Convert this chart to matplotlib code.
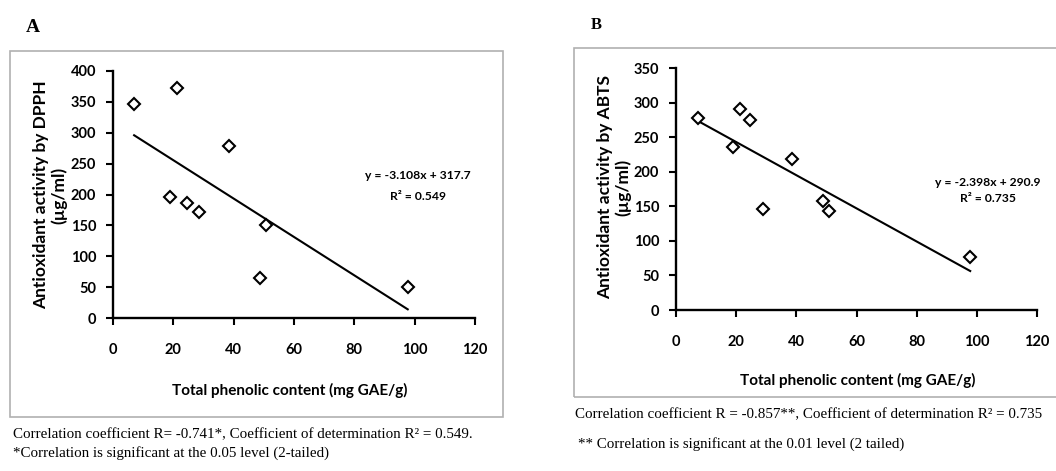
import numpy as np
import matplotlib.pyplot as plt
from matplotlib.patches import Rectangle

# data
tpc_a = [7.0, 21.1, 18.8, 24.4, 28.5, 38.4, 50.6, 48.6, 97.7]
dpph = [346, 372, 196, 187, 172, 279, 150, 64, 50]
slope_a, icpt_a = -3.108, 317.7

tpc_b = [7.3, 21.4, 24.7, 19.1, 38.6, 28.9, 48.8, 50.9, 97.8]
abts = [278, 291, 275, 236, 218, 146, 158, 143, 76]
slope_b, icpt_b = -2.398, 290.9

x_ticks = [0, 20, 40, 60, 80, 100, 120]

W, H = 1056, 471
fig = plt.figure(figsize=(W / 100, H / 100), dpi=100)

SANS = 'Lato'
SERIF = 'Liberation Serif'


def px(x, y):
    # pixel position (from top-left) -> figure fraction
    return x / W, 1 - y / H


def axes_px(left, top, right, bottom):
    x0, y1 = px(left, top)
    x1, y0 = px(right, bottom)
    return fig.add_axes([x0, y0, x1 - x0, y1 - y0])


def draw_panel(ax, xs, ys, slope, icpt, ymax, ystep):
    ax.plot(xs, ys, linestyle='none', marker='D', markersize=6,
            markerfacecolor='white', markeredgecolor='black', markeredgewidth=1.5,
            zorder=3, clip_on=False)
    lx = np.array([min(xs), max(xs)])
    ax.plot(lx, slope * lx + icpt, color='black', lw=1.5, zorder=2)
    ax.set_xlim(0, 120)
    ax.set_ylim(0, ymax)
    ax.set_xticks(x_ticks)
    ax.set_yticks(np.arange(0, ymax + 1, ystep))
    for s in ['top', 'right']:
        ax.spines[s].set_visible(False)
    for s in ['left', 'bottom']:
        ax.spines[s].set_linewidth(1.7)
    ax.tick_params(axis='x', direction='out', length=5, width=1.5, pad=13)
    ax.tick_params(axis='y', direction='out', length=5, width=1.5, pad=7)
    for lab in ax.get_xticklabels() + ax.get_yticklabels():
        lab.set_fontfamily(SANS)
        lab.set_fontweight('bold')
        lab.set_fontsize(10.5)


# frames around the panels
fig.patches.append(Rectangle(px(10, 417), 493 / W, 366 / H, transform=fig.transFigure,
                             fill=False, edgecolor='#b0b0b0', lw=1.2))
fig.patches.append(Rectangle(px(574, 397), 490 / W, 349 / H, transform=fig.transFigure,
                             fill=False, edgecolor='#b0b0b0', lw=1.2))

# panel A
ax_a = axes_px(113, 71, 475, 318)
draw_panel(ax_a, tpc_a, dpph, slope_a, icpt_a, 400, 50)
fig.text(*px(33, 27), 'A', family=SERIF, weight='bold', fontsize=14, ha='center', va='center')
fig.text(*px(50, 195), 'Antioxidant activity by DPPH\n(µg/ml)', family=SANS, weight='bold',
         fontsize=12.5, rotation=90, ha='center', va='center', linespacing=1.1)
fig.text(*px(290, 390), 'Total phenolic content (mg GAE/g)', family=SANS, weight='bold',
         fontsize=11, ha='center', va='center')
fig.text(*px(418, 176), 'y = -3.108x + 317.7', family=SANS, weight='bold', fontsize=8.7,
         ha='center', va='center')
fig.text(*px(418, 196), 'R² = 0.549', family=SANS, weight='bold', fontsize=8.7,
         ha='center', va='center')
fig.text(*px(13, 435), 'Correlation coefficient R= -0.741*, Coefficient of determination R² = 0.549.',
         family=SERIF, fontsize=10.8, ha='left', va='center')
fig.text(*px(13, 453), '*Correlation is significant at the 0.05 level (2-tailed)',
         family=SERIF, fontsize=10.8, ha='left', va='center')

# panel B
ax_b = axes_px(676, 68, 1037, 310)
draw_panel(ax_b, tpc_b, abts, slope_b, icpt_b, 350, 50)
fig.text(*px(596, 25), 'B', family=SERIF, weight='bold', fontsize=12, ha='center', va='center')
fig.text(*px(614, 187), 'Antioxidant activity by ABTS\n(µg/ml)', family=SANS, weight='bold',
         fontsize=12.5, rotation=90, ha='center', va='center', linespacing=1.1)
fig.text(*px(858, 380), 'Total phenolic content (mg GAE/g)', family=SANS, weight='bold',
         fontsize=11, ha='center', va='center')
fig.text(*px(988, 182), 'y = -2.398x + 290.9', family=SANS, weight='bold', fontsize=8.7,
         ha='center', va='center')
fig.text(*px(988, 199), 'R² = 0.735', family=SANS, weight='bold', fontsize=8.7,
         ha='center', va='center')
fig.text(*px(575, 415), 'Correlation coefficient R = -0.857**, Coefficient of determination R² = 0.735',
         family=SERIF, fontsize=10.8, ha='left', va='center')
fig.text(*px(578, 444), '** Correlation is significant at the 0.01 level (2 tailed)',
         family=SERIF, fontsize=10.8, ha='left', va='center')

fig.savefig('out.png', dpi=100)
